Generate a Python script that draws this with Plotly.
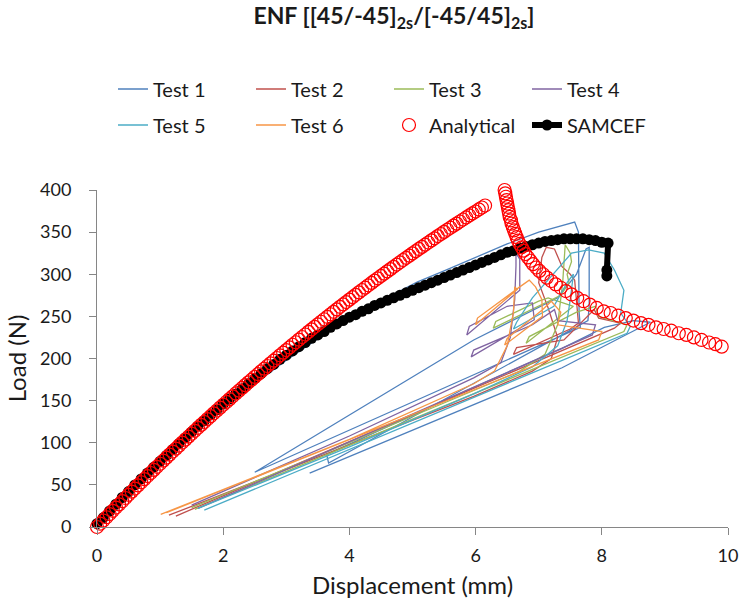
import plotly.graph_objects as go

# ---------------- data ----------------
# Test curves (displacement mm, load N)
t1_x = [0.05, 1.0, 2.0, 3.0, 4.0, 4.5, 5.08, 5.5, 6.0, 6.5, 7.0, 7.4, 7.57, 7.63, 7.64, 7.64, 7.66,
        2.5, 4.0, 5.97, 7.3, 7.6, 7.75, 7.8, 7.8, 7.8, 7.78, 3.67, 3.64, 5.5, 7.37, 8.04, 8.5, 8.77,
        7.37, 5.0, 3.37]
t1_y = [3, 74, 142, 198, 249, 268, 291, 304, 320, 336, 350, 358, 362, 350, 300, 255, 237,
        65, 133, 222, 272, 300, 330, 332, 300, 262, 245, 76, 86, 150, 212, 237, 245, 243,
        189, 115, 64]

t2_x = [1.14, 4.0, 5.97, 6.9, 7.2, 7.3, 7.15, 7.0, 7.05, 7.12, 7.25, 7.37, 7.5, 7.57, 7.6, 7.63,
        7.5, 6.6, 6.65, 7.4, 7.88, 7.95, 8.3, 8.2, 1.25]
t2_y = [14, 97, 155, 185, 200, 225, 260, 290, 320, 332, 330, 309, 300, 293, 270, 242,
        235, 205, 213, 222, 258, 248, 242, 236, 13]

t3_x = [1.5, 4.0, 5.97, 6.7, 7.1, 7.3, 7.38, 7.42, 7.5, 7.52, 7.45, 7.48, 7.35, 6.28, 6.32, 7.0,
        7.15, 7.55, 6.8, 6.85, 7.6, 7.9, 7.95, 8.4, 8.35, 1.55]
t3_y = [23, 100, 162, 185, 205, 240, 290, 335, 325, 315, 300, 290, 275, 236, 244, 268,
        272, 262, 218, 226, 255, 262, 250, 240, 232, 21]

t4_x = [1.5, 4.0, 5.97, 6.4, 6.55, 6.62, 6.64, 6.64, 6.7, 6.7, 5.86, 5.9, 6.5, 6.9, 6.93, 5.93,
        5.97, 6.9, 7.25, 7.3, 7.9, 7.85, 1.6]
t4_y = [26, 108, 177, 195, 225, 270, 310, 325, 318, 281, 228, 238, 262, 266, 246, 202,
        210, 240, 258, 245, 240, 228, 22]

t5_x = [1.6, 4.0, 5.97, 6.9, 7.3, 7.45, 7.5, 7.55, 7.45, 7.24, 6.6, 6.65, 6.9, 7.52, 7.79, 8.04,
        8.2, 8.35, 8.3, 8.45, 8.4, 1.7]
t5_y = [22, 95, 158, 190, 215, 245, 270, 300, 290, 262, 235, 243, 272, 325, 329, 325,
        305, 281, 254, 238, 230, 20]

t6_x = [1.01, 4.0, 5.97, 6.3, 6.5, 6.6, 6.62, 6.66, 6.0, 6.03, 6.7, 6.85, 6.95, 7.05, 7.06, 6.46,
        6.5, 7.06, 7.2, 7.35, 7.3, 8.0, 7.95, 1.1]
t6_y = [15, 104, 170, 185, 215, 255, 285, 282, 240, 248, 285, 293, 285, 270, 250, 216,
        224, 258, 268, 255, 240, 232, 222, 17]

# Analytical solution (two branches)
an_x = [0.00, 0.05, 0.10, 0.15, 0.20, 0.25, 0.30, 0.35, 0.40, 0.45, 0.50, 0.55, 0.60, 0.65, 0.70,
        0.75, 0.80, 0.85, 0.90, 0.95, 1.00, 1.05, 1.10, 1.15, 1.20, 1.25, 1.30, 1.35, 1.40, 1.45,
        1.50, 1.55, 1.60, 1.65, 1.70, 1.75, 1.80, 1.85, 1.90, 1.95, 2.00, 2.05, 2.10, 2.15, 2.20,
        2.25, 2.30, 2.35, 2.40, 2.45, 2.50, 2.55, 2.60, 2.65, 2.70, 2.75, 2.80, 2.85, 2.90, 2.95,
        3.00, 3.05, 3.10, 3.15, 3.20, 3.25, 3.30, 3.35, 3.40, 3.45, 3.50, 3.55, 3.60, 3.65, 3.70,
        3.75, 3.80, 3.85, 3.90, 3.95, 4.00, 4.05, 4.10, 4.15, 4.20, 4.25, 4.30, 4.35, 4.40, 4.45,
        4.50, 4.55, 4.60, 4.65, 4.70, 4.75, 4.80, 4.85, 4.90, 4.95, 5.00, 5.05, 5.10, 5.15, 5.20,
        5.25, 5.30, 5.35, 5.40, 5.45, 5.50, 5.55, 5.60, 5.65, 5.70, 5.75, 5.80, 5.85, 5.90, 5.95,
        6.00, 6.05, 6.10, 6.15,
        6.46, 6.47, 6.48, 6.49, 6.50, 6.51, 6.52, 6.53, 6.54, 6.56, 6.57, 6.59, 6.61, 6.63, 6.65,
        6.67, 6.70, 6.73, 6.76, 6.79, 6.83, 6.87, 6.91, 6.96, 7.01, 7.07, 7.13, 7.20, 7.27, 7.35,
        7.43, 7.52, 7.61, 7.71, 7.81, 7.92, 8.03, 8.14, 8.26, 8.38, 8.50, 8.62, 8.74, 8.86, 8.98,
        9.10, 9.22, 9.34, 9.46, 9.58, 9.70, 9.80, 9.90]
an_y = [0.0, 3.9, 7.7, 11.6, 15.4, 19.2, 23.1, 26.8, 30.6, 34.4, 38.2, 41.9, 45.6, 49.4, 53.1,
        56.8, 60.5, 64.1, 67.8, 71.4, 75.1, 78.7, 82.3, 85.9, 89.5, 93.0, 96.6, 100.2, 103.7, 107.2,
        110.7, 114.2, 117.7, 121.2, 124.6, 128.1, 131.5, 134.9, 138.3, 141.7, 145.1, 148.4, 151.8,
        155.1, 158.5, 161.8, 165.1, 168.4, 171.7, 174.9, 178.2, 181.4, 184.7, 187.9, 191.1, 194.3,
        197.4, 200.6, 203.8, 206.9, 210.0, 213.1, 216.3, 219.3, 222.4, 225.5, 228.5, 231.6, 234.6,
        237.6, 240.6, 243.6, 246.6, 249.5, 252.5, 255.4, 258.3, 261.3, 264.2, 267.0, 269.9, 272.8,
        275.6, 278.5, 281.3, 284.1, 286.9, 289.7, 292.5, 295.2, 298.0, 300.7, 303.4, 306.1, 308.8,
        311.5, 314.2, 316.9, 319.5, 322.1, 324.8, 327.4, 330.0, 332.5, 335.1, 337.7, 340.2, 342.7,
        345.3, 347.8, 350.3, 352.8, 355.2, 357.7, 360.1, 362.6, 365.0, 367.4, 369.8, 372.2, 374.5,
        376.9, 379.2, 381.6,
        400, 396, 392, 388, 384, 380, 376, 372, 368, 364, 360, 356, 352, 348, 344,
        340, 336, 332, 328, 324, 320, 316, 312, 308, 304, 300, 296, 292, 288, 284,
        280, 276, 272, 268, 264, 260, 256, 254, 251, 248, 245, 242, 240, 237, 235,
        233, 230, 228, 225, 222, 219, 217, 214]

# SAMCEF numerical model
sam_x = [0.0, 0.1, 0.2, 0.3, 0.4, 0.5, 0.6, 0.7, 0.8, 0.9, 1.0, 1.1, 1.2, 1.3, 1.4, 1.5, 1.6, 1.7,
         1.8, 1.9, 2.0, 2.1, 2.2, 2.3, 2.4, 2.5, 2.6, 2.7, 2.8, 2.9, 3.0, 3.1, 3.2, 3.3, 3.4, 3.5,
         3.6, 3.7, 3.8, 3.9, 4.0, 4.1, 4.2, 4.3, 4.4, 4.5, 4.6, 4.7, 4.8, 4.9, 5.0, 5.1, 5.2, 5.3,
         5.4, 5.5, 5.6, 5.7, 5.8, 5.9, 6.0, 6.1, 6.2, 6.3, 6.4, 6.5, 6.6, 6.7, 6.8, 6.9, 7.0, 7.1,
         7.2, 7.3, 7.4, 7.5, 7.6, 7.7, 7.8, 7.9, 8.0, 8.1, 8.08, 8.08]
sam_y = [4, 11, 19, 27, 35, 42, 50, 57, 64, 71, 78, 85, 92, 99, 106, 113, 120, 126,
         133, 139, 146, 152, 158, 164, 170, 176, 182, 188, 193, 199, 204, 209, 214, 219, 224, 228,
         232, 237, 241, 245, 249, 252, 256, 259, 263, 266, 269, 272, 275, 278, 281, 284, 287, 290,
         293, 296, 299, 302, 305, 308, 311, 314, 317, 320, 323, 326, 328, 331, 333, 335, 337, 339,
         340, 341, 342, 342, 342, 342, 341, 340, 338, 337, 305, 298]

x_ticks = [0, 2, 4, 6, 8, 10]
y_ticks = [0, 50, 100, 150, 200, 250, 300, 350, 400]

tests = [
    ("Test 1", t1_x, t1_y, "#4F81BD", "legend", 1),
    ("Test 2", t2_x, t2_y, "#C0504D", "legend", 2),
    ("Test 3", t3_x, t3_y, "#9BBB59", "legend", 3),
    ("Test 4", t4_x, t4_y, "#8064A2", "legend", 4),
    ("Test 5", t5_x, t5_y, "#4BACC6", "legend2", 1),
    ("Test 6", t6_x, t6_y, "#F79646", "legend2", 2),
]

FONT = "Lato, 'Open Sans', sans-serif"
TXT = "#1a1a1a"

fig = go.Figure()
for name, xs, ys, col, lg, rk in tests:
    fig.add_trace(go.Scatter(x=xs, y=ys, mode="lines", name=name,
                             line=dict(color=col, width=1.3),
                             legend=lg, legendrank=rk))

fig.add_trace(go.Scatter(x=sam_x, y=sam_y, mode="lines+markers", name="SAMCEF",
                         line=dict(color="black", width=6),
                         marker=dict(color="black", size=11, symbol="circle"),
                         legend="legend2", legendrank=4, cliponaxis=False))
fig.add_trace(go.Scatter(x=an_x, y=an_y, mode="markers", name="Analytical",
                         marker=dict(symbol="circle-open", size=13,
                                     color="#FF0000", line=dict(width=1.2)),
                         legend="legend2", legendrank=3, cliponaxis=False))

axis_common = dict(showgrid=False, zeroline=False, showline=True, linecolor="#868686",
                   linewidth=1, ticks="outside", ticklen=7, tickcolor="#868686",
                   tickfont=dict(family=FONT, size=18, color=TXT))

legend_common = dict(orientation="h", xref="container", yref="container",
                     x=113/750, xanchor="left", yanchor="middle",
                     entrywidth=93, entrywidthmode="pixels", bgcolor="rgba(0,0,0,0)",
                     font=dict(family=FONT, size=20, color=TXT), itemwidth=30)

fig.update_layout(
    width=750, height=606,
    margin=dict(l=97, r=12, t=190, b=79),
    paper_bgcolor="white", plot_bgcolor="white",
    font=dict(family=FONT, color=TXT),
    title=dict(text="<b>ENF [[45/-45]<sub>2s</sub>/[-45/45]<sub>2s</sub>]</b>",
               xref="container", yref="container", x=394/750, y=1-16/606,
               xanchor="center", yanchor="middle",
               font=dict(family=FONT, size=23, color=TXT)),
    xaxis=dict(range=[0, 10], tickvals=x_ticks, ticklabelstandoff=5,
               title=dict(text="Displacement (mm)", font=dict(family=FONT, size=24), standoff=12),
               **axis_common),
    yaxis=dict(range=[0, 400], tickvals=y_ticks, ticklabelstandoff=14,
               title=dict(text="Load (N)", font=dict(family=FONT, size=24), standoff=6),
               **axis_common),
    legend=dict(y=1-89/606, **legend_common),
    legend2=dict(y=1-125/606, **legend_common),
    showlegend=True,
)

fig.write_html("out.html")
